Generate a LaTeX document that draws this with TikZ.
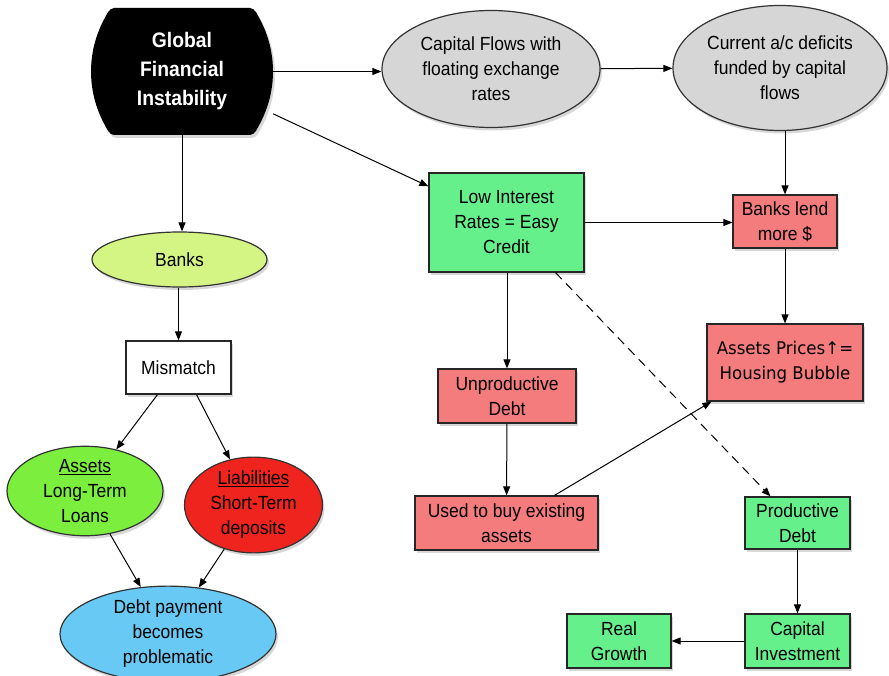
\documentclass[tikz,border=0pt]{standalone}
\usepackage{fontspec}
\setmainfont[FakeStretch=0.92]{Liberation Sans}
\newfontfamily\dejavu[FakeStretch=0.95]{DejaVu Sans}
\usetikzlibrary{shapes.geometric,arrows.meta,shadows,backgrounds}
\definecolor{gboxc}{RGB}{102,240,140}
\definecolor{rboxc}{RGB}{245,124,124}
\definecolor{grayc}{RGB}{214,214,214}
\definecolor{banksc}{RGB}{212,245,132}
\definecolor{assetc}{RGB}{124,238,62}
\definecolor{liabc}{RGB}{240,36,30}
\definecolor{bluec}{RGB}{104,202,244}
\begin{document}
\begin{tikzpicture}[x=1pt,y=-1pt,
  every node/.style={font=\fontsize{19}{25}\selectfont, align=center, inner sep=0pt},
  shad/.style={drop shadow={shadow xshift=2pt,shadow yshift=-3pt,opacity=0.3}},
  boxn/.style={draw=black!85, line width=1.2pt, rectangle, shad},
  elln/.style={draw=black!80, line width=1.2pt, ellipse, shad},
  conn/.style={line width=1pt, -{Triangle[length=9pt,width=7pt]}},
]
\useasboundingbox (0,0) rectangle (889,676);
\begin{scope}[on background layer]
  \fill[white] (0,0) rectangle (889,676);
\end{scope}

% top row
\node[rectangle, minimum width=182pt, minimum height=127pt, text=white,
      font=\bfseries\fontsize{21}{29}\selectfont] (global) at (182,71.5)
      {Global\\Financial\\Instability};
\begin{scope}[on background layer, shift={(global.center)}]
  \fill[black, shad]
    (-68,-63.5) -- (68,-63.5)
    .. controls (73,-63.5) and (76.1,-55.5) .. (78,-52)
    .. controls (95.3,-19.6) and (95.3,19.6) .. (78,52)
    .. controls (76.1,55.5) and (73,63.5) .. (68,63.5)
    -- (-68,63.5)
    .. controls (-73,63.5) and (-76.1,55.5) .. (-78,52)
    .. controls (-95.3,19.6) and (-95.3,-19.6) .. (-78,-52)
    .. controls (-76.1,-55.5) and (-73,-63.5) .. (-68,-63.5) -- cycle;
\end{scope}
\node[elln, fill=grayc, minimum width=218pt, minimum height=117pt] (capflows) at (491,69)
      {Capital Flows with\\floating exchange\\rates};
\node[elln, fill=grayc, minimum width=214pt, minimum height=125pt] (current) at (780,68)
      {Current a/c deficits\\funded by capital\\flows};

% right side
\node[boxn, fill=gboxc, minimum width=155pt, minimum height=99pt] (low) at (506.5,222.5)
      {Low Interest\\Rates = Easy\\Credit};
\node[boxn, fill=rboxc, minimum width=104pt, minimum height=53pt] (lend) at (785,221.5)
      {Banks lend\\more \$};
\node[boxn, fill=rboxc, minimum width=156pt, minimum height=77pt,
      font=\dejavu\fontsize{17.5}{25}\selectfont] (prices) at (785,362.5)
      {Assets Prices↑=\\Housing Bubble};
\node[boxn, fill=rboxc, minimum width=138pt, minimum height=54pt] (unprod) at (507,396)
      {Unproductive\\Debt};
\node[boxn, fill=rboxc, minimum width=183pt, minimum height=54pt] (used) at (506.5,523)
      {Used to buy existing\\assets};
\node[boxn, fill=gboxc, minimum width=105pt, minimum height=52pt] (prod) at (797.5,523)
      {Productive\\Debt};
\node[boxn, fill=gboxc, minimum width=105pt, minimum height=54pt] (capinv) at (797.5,641)
      {Capital\\Investment};
\node[boxn, fill=gboxc, minimum width=104pt, minimum height=54pt] (real) at (619,641)
      {Real\\Growth};

% left side
\node[elln, fill=banksc, minimum width=175pt, minimum height=55pt] (banks) at (179.5,259.5)
      {Banks};
\node[boxn, fill=white, minimum width=105pt, minimum height=53pt] (mismatch) at (178.5,367.5)
      {Mismatch};
\node[elln, fill=assetc, minimum width=156pt, minimum height=82pt] (assets) at (85,491)
      {\underline{Assets}\\Long-Term\\Loans};
\node[elln, fill=liabc, minimum width=138pt, minimum height=84pt] (liab) at (253.5,505)
      {\underline{Liabilities}\\Short-Term\\deposits};
\node[elln, fill=bluec, minimum width=216pt, minimum height=86pt] (debtpay) at (168,634)
      {Debt payment\\becomes\\problematic};

% connectors
\draw[conn] (global.east) -- (global.east -| capflows.west);
\draw[conn] (capflows) -- (current);
\draw[conn] (global) -- (low);
\draw[conn] (global.south) -- (global.south |- banks.north);
\draw[conn] (lend.north |- current.south) -- (lend.north);
\draw[conn] (low.east) -- (low.east -| lend.west);
\draw[conn] (lend) -- (prices);
\draw[conn] (low.south -| unprod.north) -- (unprod.north);
\draw[conn] (unprod) -- (used);
\draw[conn] ([xshift=48pt]used.north) -- ([xshift=5pt]prices.south west);
\draw[conn, dashed, dash pattern=on 9pt off 6pt] ([xshift=49pt]low.south) -- ([xshift=-27pt]prod.north);
\draw[conn] (prod) -- (capinv);
\draw[conn] (capinv) -- (real);
\draw[conn] (banks.south -| mismatch.north) -- (mismatch.north);
\draw[conn] ([xshift=-21pt]mismatch.south) -- (assets);
\draw[conn] ([xshift=18pt]mismatch.south) -- (liab);
\draw[conn] (assets) -- (debtpay);
\draw[conn] (liab) -- (debtpay);
\end{tikzpicture}
\end{document}
